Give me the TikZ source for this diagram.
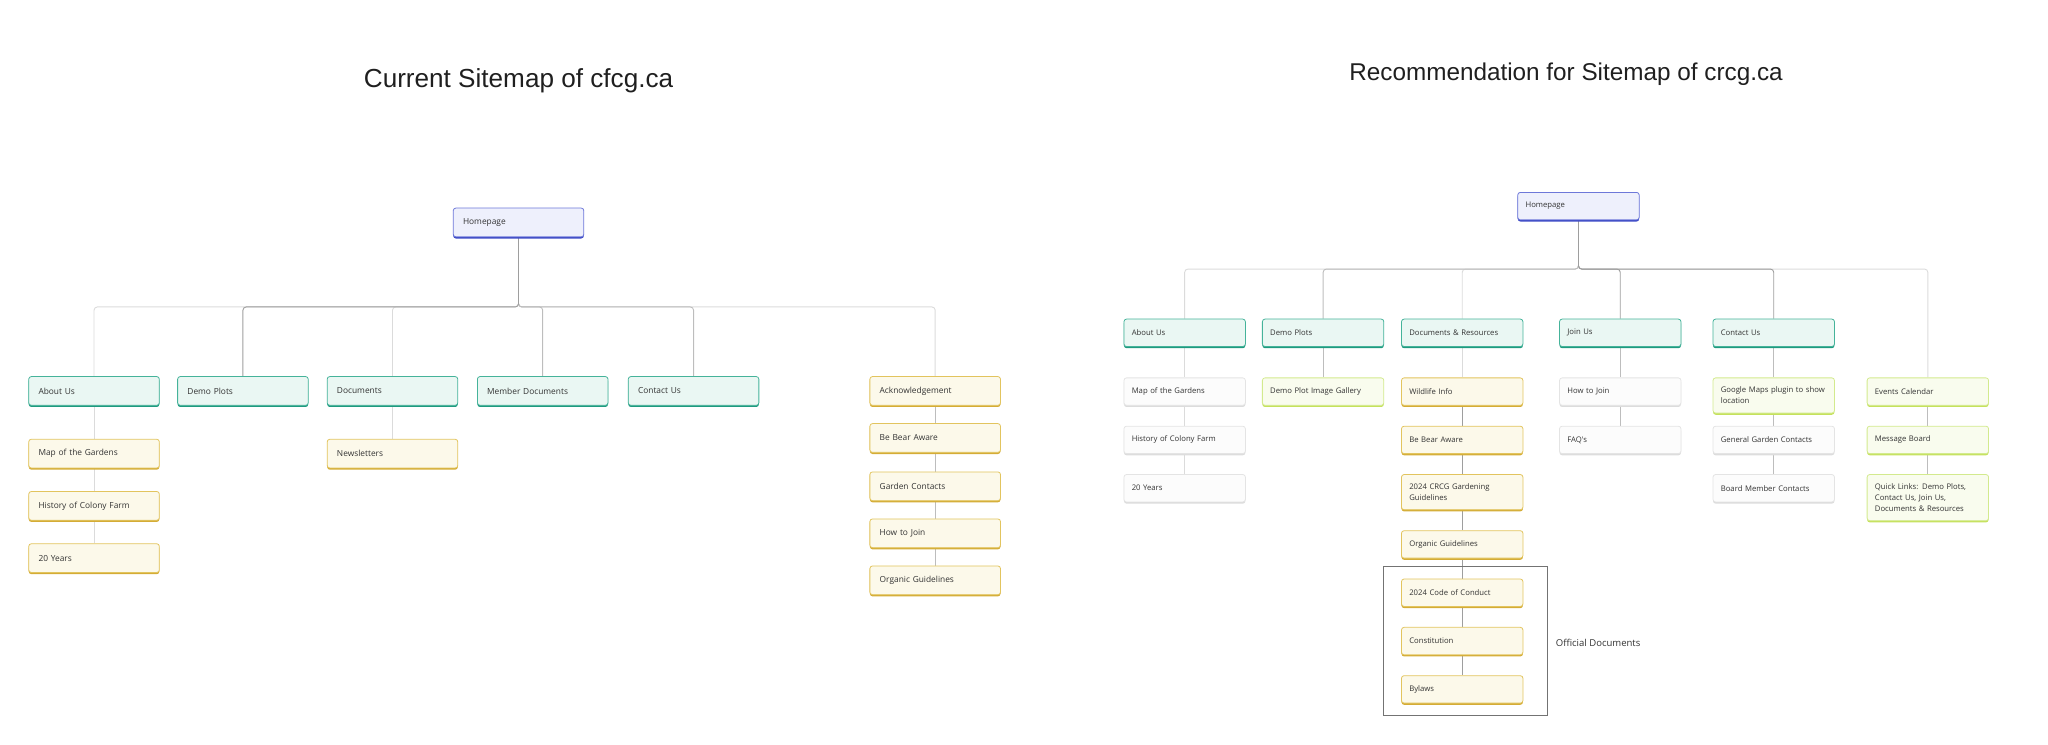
\documentclass[tikz,border=0pt]{standalone}
\usepackage{fontspec}
\usepackage{xcolor}
\usepackage{tikz}
\usetikzlibrary{shadows,backgrounds}

\newfontfamily\boxfont{Open Sans}
\newfontfamily\headfont{Liberation Sans}

\definecolor{homefill}{HTML}{EEF0FC}
\definecolor{homeline}{HTML}{6D78D9}
\definecolor{homeband}{HTML}{3F4CC6}
\definecolor{secfill}{HTML}{EAF7F3}
\definecolor{secline}{HTML}{45B39A}
\definecolor{secband}{HTML}{1F9A7F}
\definecolor{docfill}{HTML}{FCF9EA}
\definecolor{docline}{HTML}{E2C45E}
\definecolor{docband}{HTML}{D4AC36}
\definecolor{newfill}{HTML}{F9FCEE}
\definecolor{newline}{HTML}{D3EA8E}
\definecolor{newband}{HTML}{C5E15C}
\definecolor{pagefill}{HTML}{FCFCFC}
\definecolor{pageline}{HTML}{E4E4E4}
\definecolor{pageband}{HTML}{DCDCDC}

\begin{document}
\begin{tikzpicture}[
  x=1pt,y=-1pt,
  band/.style={general shadow={fill=#1,shadow xshift=0pt,shadow yshift=-1.3pt}},
  box/.style={draw,rounded corners=2pt,line width=0.6pt,text=black!80,align=left,anchor=north,inner ysep=7pt},
  lbox/.style={box,font=\boxfont\fontsize{6.4}{9}\selectfont,text width=85pt,inner xsep=7.5pt,minimum height=22pt},
  rbox/.style={box,font=\boxfont\fontsize{5.9}{8.4}\selectfont,text width=81pt,inner xsep=6pt,minimum height=21pt},
  home/.style={fill=homefill,draw=homeline,band=homeband},
  sec/.style={fill=secfill,draw=secline,band=secband},
  doc/.style={fill=docfill,draw=docline,band=docband},
  extra/.style={fill=newfill,draw=newline,band=newband},
  page/.style={fill=pagefill,draw=pageline,band=pageband},
  link/.style={draw=black!26,line width=0.7pt,rounded corners=2.5pt},
  faint/.style={link,draw=black!14},
  strong/.style={link,draw=black!38},
  frame/.style={draw=black!55,line width=0.7pt},
  heading/.style={font=\headfont\fontsize{20}{24}\selectfont,text=black!88}
]
\useasboundingbox (0,0) rectangle (1568,570);

% titles
\node[heading] (ltitle) at (397,62) {Current Sitemap of cfcg.ca};
\node[heading,font=\headfont\fontsize{18.6}{22}\selectfont] (rtitle) at (1199,57) {Recommendation for Sitemap of crcg.ca};

% current sitemap
\node[lbox,home] (lhome) at (397,159) {Homepage};
\node[lbox,sec] (lab)  at (72,288)    {About Us};
\node[lbox,sec] (ldp)  at (186,288)   {Demo Plots};
\node[lbox,sec] (ldoc) at (300.5,288) {Documents};
\node[lbox,sec] (lmem) at (415.5,288) {Member Documents};
\node[lbox,sec] (lcon) at (531,288)   {Contact Us};
\node[lbox,doc] (lack) at (716,288)   {Acknowledgement};
\node[lbox,doc] (lmap)  at (72,336)    {Map of the Gardens};
\node[lbox,doc] (lhist) at (72,376)    {History of Colony Farm};
\node[lbox,doc] (lyrs)  at (72,416)    {20 Years};
\node[lbox,doc] (lnews) at (300.5,336) {Newsletters};
\node[lbox,doc] (lbear) at (716,324) {Be Bear Aware};
\node[lbox,doc] (lgard) at (716,361) {Garden Contacts};
\node[lbox,doc] (ljoin) at (716,397) {How to Join};
\node[lbox,doc] (lorg)  at (716,433) {Organic Guidelines};
\coordinate (lbus) at (397,235);

% recommended sitemap
\node[rbox,home] (rhome) at (1208.5,147) {Homepage};
\node[rbox,sec] (rab) at (907,244)    {About Us};
\node[rbox,sec] (rdp) at (1013,244)   {Demo Plots};
\node[rbox,sec] (rdr) at (1119.5,244) {Documents \& Resources};
\node[rbox,sec] (rju) at (1240.5,244) {Join Us};
\node[rbox,sec] (rcu) at (1358,244)   {Contact Us};
\node[rbox,page]  (rmap)  at (907,289)    {Map of the Gardens};
\node[rbox,extra] (rgal)  at (1013,289)   {Demo Plot Image Gallery};
\node[rbox,doc]   (rwild) at (1119.5,289) {Wildlife Info};
\node[rbox,page]  (rhow)  at (1240.5,289) {How to Join};
\node[rbox,extra] (rgmap) at (1358,289)   {Google Maps plugin to show\\location};
\node[rbox,extra] (revt)  at (1476,289)   {Events Calendar};
\node[rbox,page]  (rhist) at (907,326)    {History of Colony Farm};
\node[rbox,doc]   (rbear) at (1119.5,326) {Be Bear Aware};
\node[rbox,page]  (rfaq)  at (1240.5,326) {FAQ's};
\node[rbox,page]  (rgen)  at (1358,326)   {General Garden Contacts};
\node[rbox,extra] (rmsg)  at (1476,326)   {Message Board};
\node[rbox,page]  (ryrs)   at (907,363)    {20 Years};
\node[rbox,doc]   (rcrcg)  at (1119.5,363) {2024 CRCG Gardening\\Guidelines};
\node[rbox,page]  (rboard) at (1358,363)   {Board Member Contacts};
\node[rbox,extra] (rquick) at (1476,363)   {Quick Links: Demo Plots,\\Contact Us, Join Us,\\Documents \& Resources};
\node[rbox,doc] (rorg)   at (1119.5,406) {Organic Guidelines};
\node[rbox,doc] (rcode)  at (1119.5,443) {2024 Code of Conduct};
\node[rbox,doc] (rconst) at (1119.5,480) {Constitution};
\node[rbox,doc] (rbyl)   at (1119.5,517) {Bylaws};
\coordinate (rbus) at (1208.5,206);

% official documents group
\draw[frame] (1059,434) rectangle (1184.5,547.5);
\node[font=\boxfont\fontsize{7.3}{9}\selectfont,text=black!80,anchor=west,inner sep=0pt] (offdocs) at (1191,492) {Official Documents};

\begin{scope}[on background layer]
% homepage to sections
\foreach \c in {lab,ldoc,lack} \draw[faint] (lhome.south) -- (lbus) -| (\c.north);
\foreach \c in {lmem,lcon} \draw[link] (lhome.south) -- (lbus) -| (\c.north);
\draw[strong] (lhome.south) -- (lbus) -| (ldp.north);
\foreach \c in {rab,rdr,revt} \draw[faint] (rhome.south) -- (rbus) -| (\c.north);
\draw[link] (rhome.south) -- (rbus) -| (rdp.north);
\foreach \c in {rju,rcu} \draw[strong] (rhome.south) -- (rbus) -| (\c.north);
% pages under sections
\foreach \a/\b in {lab/lmap,lmap/lhist,lhist/lyrs,ldoc/lnews} \draw[faint] (\a) -- (\b);
\foreach \a/\b in {lack/lbear,lbear/lgard,lgard/ljoin,ljoin/lorg} \draw[link] (\a) -- (\b);
\foreach \a/\b in {rab/rmap,rmap/rhist,rhist/ryrs,rdr/rwild} \draw[faint] (\a) -- (\b);
\foreach \a/\b in {rdp/rgal,rju/rhow,rhow/rfaq,rcu/rgmap,rgmap/rgen,rgen/rboard,revt/rmsg,rmsg/rquick} \draw[link] (\a) -- (\b);
\foreach \a/\b in {rwild/rbear,rbear/rcrcg,rcrcg/rorg,rorg/rcode,rcode/rconst,rconst/rbyl} \draw[strong] (\a) -- (\b);
\end{scope}
\end{tikzpicture}
\end{document}
